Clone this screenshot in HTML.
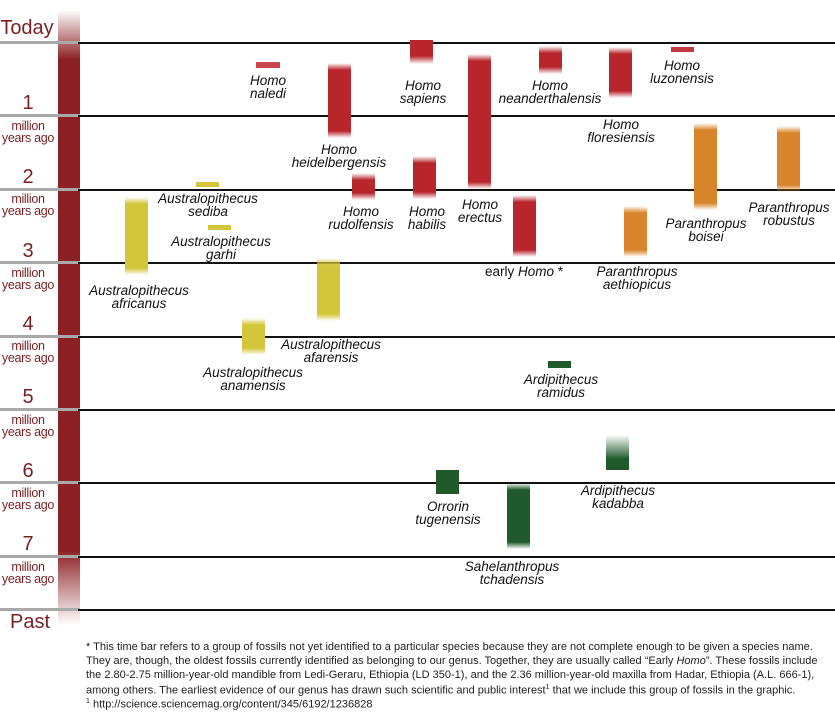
<!DOCTYPE html>
<html><head><meta charset="utf-8"><style>
body{margin:0;width:835px;height:727px;background:#fff;position:relative;overflow:hidden;font-family:"Liberation Sans",sans-serif}
.ab{position:absolute}
.hl{position:absolute;left:78px;width:757px;height:2px;background:#111}
.gl{position:absolute;left:0;width:80px;height:3px;background:#a9a9a9}
.lab{position:absolute;color:#7a1f22;text-align:center;width:56px;left:0;white-space:nowrap}
.big{font-size:20px}
.sm{font-size:12.5px;line-height:12px;letter-spacing:-0.3px;width:58px;left:-1px}
.b{position:absolute;width:23px}
.r{--c:#b8262c}.o{--c:#d8842a}.y{--c:#d4c63a}.g{--c:#1e5a2b}
.b{background:linear-gradient(to bottom,rgba(255,255,255,0),var(--c) 7px,var(--c) calc(100% - 7px),rgba(255,255,255,0))}
.t{position:absolute;font-style:italic;font-size:13.5px;line-height:13px;text-align:center;color:#111;white-space:nowrap;transform:translateX(-50%)}
.fn{position:absolute;left:86px;font-size:11px;color:#222;white-space:nowrap}
</style></head><body>
<div class="ab" style="left:58px;top:10px;width:22px;height:615px;background:linear-gradient(to bottom,rgba(140,30,30,0) 0,#8c2023 50px,#8c2023 540px,rgba(140,30,30,0) 100%)"></div>

<div class="gl" style="top:41px"></div><div class="hl" style="top:42px"></div>
<div class="gl" style="top:114px"></div><div class="hl" style="top:115px"></div>
<div class="gl" style="top:188px"></div><div class="hl" style="top:189px"></div>
<div class="gl" style="top:261px"></div><div class="hl" style="top:262px"></div>
<div class="gl" style="top:335px"></div><div class="hl" style="top:336px"></div>
<div class="gl" style="top:408px"></div><div class="hl" style="top:409px"></div>
<div class="gl" style="top:481px"></div><div class="hl" style="top:482px"></div>
<div class="gl" style="top:555px"></div><div class="hl" style="top:556px"></div>
<div class="gl" style="top:608px"></div><div class="hl" style="top:609px"></div>

<div class="lab big" style="top:17px;width:54px">Today</div>
<div class="lab big" style="top:92px">1</div>
<div class="lab sm" style="top:120px">million<br>years ago</div>
<div class="lab big" style="top:166px">2</div>
<div class="lab sm" style="top:193px">million<br>years ago</div>
<div class="lab big" style="top:240px">3</div>
<div class="lab sm" style="top:267px">million<br>years ago</div>
<div class="lab big" style="top:313px">4</div>
<div class="lab sm" style="top:340px">million<br>years ago</div>
<div class="lab big" style="top:386px">5</div>
<div class="lab sm" style="top:414px">million<br>years ago</div>
<div class="lab big" style="top:460px">6</div>
<div class="lab sm" style="top:487px">million<br>years ago</div>
<div class="lab big" style="top:533px">7</div>
<div class="lab sm" style="top:561px">million<br>years ago</div>
<div class="lab big" style="top:611px;left:2px">Past</div>

<div class="b r" style="left:256px;top:62px;height:6px;width:24px;background:#c9464a"></div>
<div class="b r" style="left:328px;top:63px;height:75px"></div>
<div class="b r" style="left:410px;top:40px;height:24px;background:linear-gradient(#b8262c 16px,rgba(255,255,255,0))"></div>
<div class="b r" style="left:468px;top:54px;height:135px"></div>
<div class="b r" style="left:539px;top:46px;height:28px"></div>
<div class="b r" style="left:609px;top:47px;height:51px"></div>
<div class="b r" style="left:671px;top:47px;height:5px;background:#c0393e"></div>
<div class="b r" style="left:352px;top:173px;height:27px"></div>
<div class="b r" style="left:413px;top:156px;height:43px"></div>
<div class="b r" style="left:513px;top:195px;height:62px"></div>
<div class="b o" style="left:694px;top:123px;height:87px"></div>
<div class="b o" style="left:777px;top:126px;height:66px"></div>
<div class="b o" style="left:624px;top:206px;height:51px"></div>
<div class="b y" style="left:196px;top:182px;height:5px;background:#d4c63a"></div>
<div class="b y" style="left:208px;top:225px;height:5px;background:#d4c63a"></div>
<div class="b y" style="left:125px;top:197px;height:78px"></div>
<div class="b y" style="left:317px;top:258px;height:63px"></div>
<div class="b y" style="left:242px;top:318px;height:37px"></div>
<div class="b g" style="left:548px;top:361px;height:7px;background:#1e5a2b"></div>
<div class="b g" style="left:606px;top:435px;height:35px;background:linear-gradient(rgba(255,255,255,0),#1e5a2b 24px)"></div>
<div class="b g" style="left:436px;top:470px;height:24px;background:#1e5a2b"></div>
<div class="b g" style="left:507px;top:483px;height:66px"></div>

<div class="t" style="left:268px;top:74px">Homo<br>naledi</div>
<div class="t" style="left:339px;top:143px">Homo<br>heidelbergensis</div>
<div class="t" style="left:423px;top:79px">Homo<br>sapiens</div>
<div class="t" style="left:550px;top:79px">Homo<br>neanderthalensis</div>
<div class="t" style="left:621px;top:118px">Homo<br>floresiensis</div>
<div class="t" style="left:682px;top:59px">Homo<br>luzonensis</div>
<div class="t" style="left:361px;top:205px">Homo<br>rudolfensis</div>
<div class="t" style="left:427px;top:205px">Homo<br>habilis</div>
<div class="t" style="left:480px;top:198px">Homo<br>erectus</div>
<div class="t" style="left:524px;top:265px;font-style:normal">early <i>Homo</i> *</div>
<div class="t" style="left:706px;top:217px">Paranthropus<br>boisei</div>
<div class="t" style="left:789px;top:201px">Paranthropus<br>robustus</div>
<div class="t" style="left:637px;top:265px">Paranthropus<br>aethiopicus</div>
<div class="t" style="left:208px;top:192px">Australopithecus<br>sediba</div>
<div class="t" style="left:221px;top:235px">Australopithecus<br>garhi</div>
<div class="t" style="left:139px;top:284px">Australopithecus<br>africanus</div>
<div class="t" style="left:331px;top:338px">Australopithecus<br>afarensis</div>
<div class="t" style="left:253px;top:366px">Australopithecus<br>anamensis</div>
<div class="t" style="left:561px;top:373px">Ardipithecus<br>ramidus</div>
<div class="t" style="left:618px;top:484px">Ardipithecus<br>kadabba</div>
<div class="t" style="left:448px;top:500px">Orrorin<br>tugenensis</div>
<div class="t" style="left:512px;top:560px">Sahelanthropus<br>tchadensis</div>

<div class="fn" style="top:641px">* This time bar refers to a group of fossils not yet identified to a particular species because they are not complete enough to be given a species name.</div>
<div class="fn" style="top:655px">They are, though, the oldest fossils currently identified as belonging to our genus. Together, they are usually called “Early <i>Homo</i>”. These fossils include</div>
<div class="fn" style="top:669px">the 2.80-2.75 million-year-old mandible from Ledi-Geraru, Ethiopia (LD 350-1), and the 2.36 million-year-old maxilla from Hadar, Ethiopia (A.L. 666-1),</div>
<div class="fn" style="top:684px">among others. The earliest evidence of our genus has drawn such scientific and public interest<sup style="font-size:7px">1</sup> that we include this group of fossils in the graphic.</div>
<div class="fn" style="top:698px"><sup style="font-size:7px">1</sup> http://science.sciencemag.org/content/345/6192/1236828</div>
</body></html>
